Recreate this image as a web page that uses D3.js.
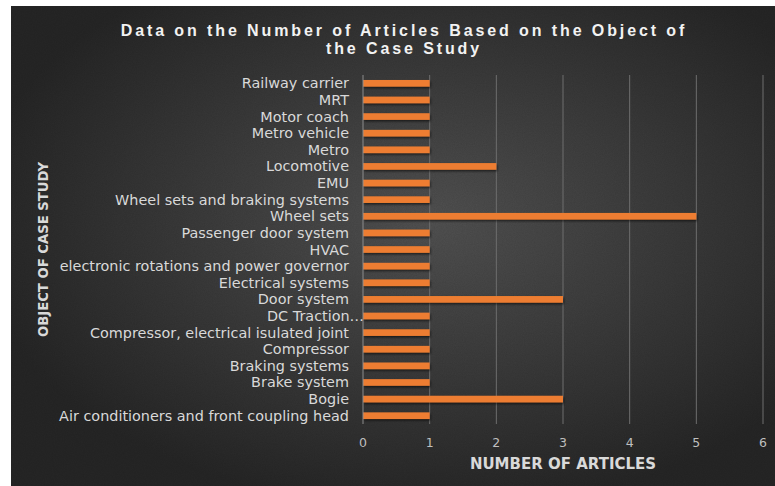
<!DOCTYPE html>
<html>
<head>
<meta charset="utf-8">
<script src="https://cdn.jsdelivr.net/npm/d3@7"></script>
<style>
  body { margin: 0; background: #fff; }
  svg { display: block; }
</style>
</head>
<body>
<div class="viz"></div>
<script>
// categories top to bottom, as shown in the chart
const categories = [
  "Railway carrier", "MRT", "Motor coach", "Metro vehicle", "Metro", "Locomotive", "EMU",
  "Wheel sets and braking systems", "Wheel sets", "Passenger door system", "HVAC",
  "electronic rotations and power governor", "Electrical systems", "Door system",
  "DC Traction", "Compressor, electrical isulated joint", "Compressor", "Braking systems",
  "Brake system", "Bogie", "Air conditioners and front coupling head"
];
const articles = [1, 1, 1, 1, 1, 2, 1, 1, 5, 1, 1, 1, 1, 3, 1, 1, 1, 1, 1, 3, 1];
const xTicks = [0, 1, 2, 3, 4, 5, 6];

const width = 775, height = 486;
const margin = { top: 75, right: 12, bottom: 62, left: 363 };

const svg = d3.select(".viz").append("svg")
  .attr("width", width)
  .attr("height", height);

const defs = svg.append("defs");
const bg = defs.append("radialGradient")
  .attr("id", "bg")
  .attr("cx", "55%").attr("cy", "45%").attr("r", "60%");
bg.append("stop").attr("offset", "0%").attr("stop-color", "#525252");
bg.append("stop").attr("offset", "100%").attr("stop-color", "#262626");

const noise = defs.append("filter").attr("id", "noise").attr("x", 0).attr("y", 0).attr("width", "100%").attr("height", "100%");
noise.append("feTurbulence").attr("type", "fractalNoise").attr("baseFrequency", 0.9).attr("numOctaves", 2).attr("result", "n");
noise.append("feColorMatrix").attr("in", "n").attr("type", "matrix")
  .attr("values", "0 0 0 0 0  0 0 0 0 0  0 0 0 0 0  0 0 0 0.12 0").attr("result", "a");
noise.append("feComposite").attr("in", "a").attr("in2", "SourceGraphic").attr("operator", "in");

const shadow = defs.append("filter").attr("id", "shadow").attr("x", "-5%").attr("y", "-50%").attr("width", "110%").attr("height", "200%");
shadow.append("feDropShadow").attr("dx", 1).attr("dy", 1.5).attr("stdDeviation", 1).attr("flood-color", "#000").attr("flood-opacity", 0.6);

// chart area (white strip on the top and left like the source image)
svg.append("rect").attr("x", 11).attr("y", 6).attr("width", width - 11).attr("height", height - 6).attr("fill", "url(#bg)");
svg.append("rect").attr("x", 11).attr("y", 6).attr("width", width - 11).attr("height", height - 6).attr("fill", "#000").attr("filter", "url(#noise)");

const x = d3.scaleLinear()
  .domain([0, 6])
  .range([margin.left, width - margin.right]);

const y = d3.scaleBand()
  .domain(categories)
  .range([margin.top, height - margin.bottom])
  .paddingInner(0.6)
  .paddingOuter(0.3);

// gridlines
svg.append("g")
  .selectAll("line")
  .data(xTicks.filter(d => d > 0))
  .enter().append("line")
  .attr("x1", d => x(d)).attr("x2", d => x(d))
  .attr("y1", margin.top).attr("y2", height - margin.bottom)
  .attr("stroke", "#6e6e6e")
  .attr("stroke-width", 1);

// bars
svg.append("g")
  .selectAll("rect")
  .data(articles)
  .enter().append("rect")
  .attr("x", x(0))
  .attr("y", (d, i) => y(categories[i]))
  .attr("width", d => x(d) - x(0))
  .attr("height", y.bandwidth())
  .attr("fill", "#ed7d31")
  .attr("filter", "url(#shadow)");

// vertical axis line
svg.append("line")
  .attr("x1", x(0)).attr("x2", x(0))
  .attr("y1", margin.top).attr("y2", height - margin.bottom)
  .attr("stroke", "#8c8c8c")
  .attr("stroke-width", 1);

const font = "'DejaVu Sans', sans-serif";

// category labels
const labels = svg.append("g")
  .selectAll("text")
  .data(categories)
  .enter().append("text")
  .attr("x", x(0) - 14)
  .attr("y", d => y(d) + y.bandwidth() / 2)
  .attr("dy", "0.35em")
  .attr("text-anchor", "end")
  .attr("fill", "#d9d9d9")
  .style("font-family", font)
  .style("font-size", "14.4px")
  .text(d => d);

// truncated label gets its ellipsis past the label edge
labels.filter(d => d === "DC Traction")
  .append("tspan")
  .text("\u2026");
labels.filter(d => d === "DC Traction")
  .attr("x", x(0) + 1);

// x tick labels
svg.append("g")
  .selectAll("text")
  .data(xTicks)
  .enter().append("text")
  .attr("x", d => x(d))
  .attr("y", 447)
  .attr("text-anchor", "middle")
  .attr("fill", "#bfbfbf")
  .style("font-family", font)
  .style("font-size", "12.5px")
  .text(d => d);

// axis titles
svg.append("text")
  .attr("x", x(3))
  .attr("y", 469)
  .attr("text-anchor", "middle")
  .attr("fill", "#d9d9d9")
  .style("font-family", font)
  .style("font-size", "15px")
  .style("font-weight", "bold")
  .text("NUMBER OF ARTICLES");

svg.append("text")
  .attr("transform", `translate(48, ${(margin.top + height - margin.bottom) / 2}) rotate(-90)`)
  .attr("text-anchor", "middle")
  .attr("fill", "#d9d9d9")
  .style("font-family", font)
  .style("font-size", "13.2px")
  .style("font-weight", "bold")
  .text("OBJECT OF CASE STUDY");

// title
const title = svg.append("text")
  .attr("text-anchor", "middle")
  .attr("fill", "#f2f2f2")
  .style("font-family", "'Liberation Sans', Arial, sans-serif")
  .style("font-size", "16px")
  .style("font-weight", "bold")
  .style("letter-spacing", "2.9px");
title.append("tspan").attr("x", 404).attr("y", 36).text("Data on the Number of Articles Based on the Object of");
title.append("tspan").attr("x", 404).attr("y", 54).text("the Case Study");
</script>
</body>
</html>
